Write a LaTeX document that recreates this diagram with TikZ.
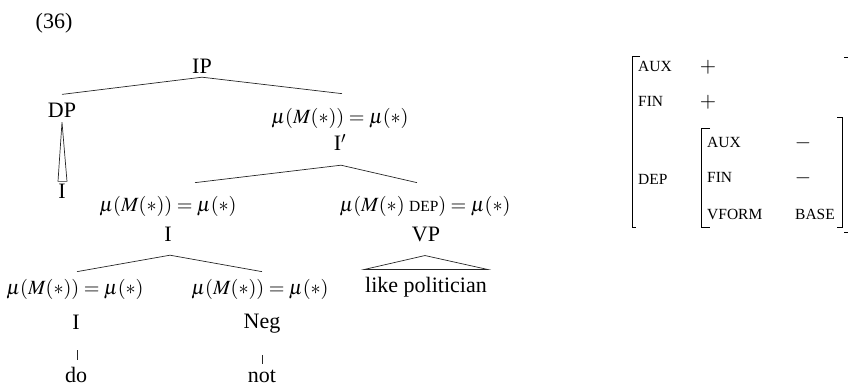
\documentclass[tikz,border=0pt]{standalone}
\usepackage{mathptmx}
\usepackage[no-math]{fontspec}
\setmainfont{Liberation Serif}
\usetikzlibrary{calc}
\tikzset{
  lbl/.style={inner sep=0pt, anchor=base, font=\fontsize{22}{26}\selectfont},
  mulbl/.style={inner sep=0pt, anchor=base, font=\fontsize{20.2}{24}\selectfont},
  feat/.style={inner sep=0pt, anchor=base west, font=\fontsize{15.5}{18}\selectfont},
  val/.style={inner sep=0pt, anchor=base, font=\fontsize{21}{25}\selectfont},
  edge/.style={line width=0.7pt, draw=black!85},
  brk/.style={line width=1pt}
}
\newcommand{\depsc}{\mbox{\fontsize{15.5}{18}\selectfont DEP}}
\newcommand{\mueq}{$\mu(M(*))=\mu(*)$}
\begin{document}
\begin{tikzpicture}[x=1pt,y=-1pt]
\useasboundingbox (0,0) rectangle (848,387);
% labels
\node[lbl] (num) at (54,29) {(36)};
\node[lbl] (IP) at (202,74) {IP};
\node[lbl] (DP) at (62,118) {DP};
\node[mulbl] (mIb) at (340,124) {\mueq};
\node[lbl] (Ibar) at (340,151) {I$'$};
\node[lbl] (Idp) at (62,199) {I};
\node[mulbl] (mI) at (168,212) {\mueq};
\node[lbl] (I) at (168,242) {I};
\node[mulbl] (mVP) at (425,212) {$\mu(M(*)\;\depsc)=\mu(*)$};
\node[lbl] (VP) at (426,242) {VP};
\node[lbl] (lp) at (426,292) {like politician};
\node[mulbl] (mI2) at (75,294) {\mueq};
\node[lbl] (I2) at (76,329) {I};
\node[lbl] (do) at (76,382) {do};
\node[mulbl] (mNeg) at (260,294) {\mueq};
\node[lbl] (Neg) at (262,328) {Neg};
\node[lbl] (not) at (262,382) {not};
% tree edges
\coordinate (ipA) at ($(IP.south)+(0,3)$);
\draw[edge] ($(DP.north)+(0,-9)$) -- (ipA) -- ($(mIb.north)+(2,-15)$);
\coordinate (dpA) at ($(DP.south)+(0,4)$);
\draw[edge] (dpA) -- ($(Idp.north)+(-4,-3)$) -- ($(Idp.north)+(5,-3)$) -- cycle;
\coordinate (ibA) at ($(Ibar.south)+(1,14)$);
\draw[edge] ($(mI.north)+(27,-14)$) -- (ibA) -- ($(mVP.north)+(-8,-14)$);
\coordinate (iA) at ($(I.south)+(2,13)$);
\draw[edge] ($(mI2.north)+(2,-7)$) -- (iA) -- ($(mNeg.north)+(2,-7)$);
\coordinate (vpA) at ($(VP.south)+(-1,13)$);
\draw[edge] (vpA) -- ($(lp.north west)+(-1,-7)$) -- ($(lp.north east)+(1,-7)$) -- cycle;
\draw[edge] ($(I2.south)+(1,21)$) -- ($(do.north)+(1,-7)$);
\draw[edge] ($(Neg.south)+(0,22)$) -- ($(not.north)+(0,-5)$);
% AVM
\node[feat] (aux) at (638,72) {AUX};
\node[val] (auxv) at (708,73) {$+$};
\node[feat] (fin) at (638,107) {FIN};
\node[val] (finv) at (708,108) {$+$};
\node[feat] (dep) at (638,185) {DEP};
\node[feat] (iaux) at (707,148) {AUX};
\node[val] (iauxv) at (803,149) {$-$};
\node[feat] (ifin) at (707,183) {FIN};
\node[val] (ifinv) at (803,184) {$-$};
\node[feat] (vform) at (707,220) {VFORM};
\node[feat] (base) at (795,220) {BASE};
% brackets
\draw[brk] ($(aux.west)+(2,-10)$) -| ($(aux.west)+(-6,-10)$) |- ($(dep.west)+(-2,48)$);
\draw[brk] ($(iaux.north west)+(3,-9)$) -| ($(iaux.north west)+(-6,-9)$) |- ($(vform.south west)+(3,7)$);
\draw[brk] ($(base.north east)+(2,-92)$) -| ($(base.north east)+(7,-92)$) |- ($(base.south east)+(2,7)$);
\draw[brk] (844,58) -- (848,58);
\draw[brk] (844,233) -- (848,233);
\end{tikzpicture}
\end{document}
